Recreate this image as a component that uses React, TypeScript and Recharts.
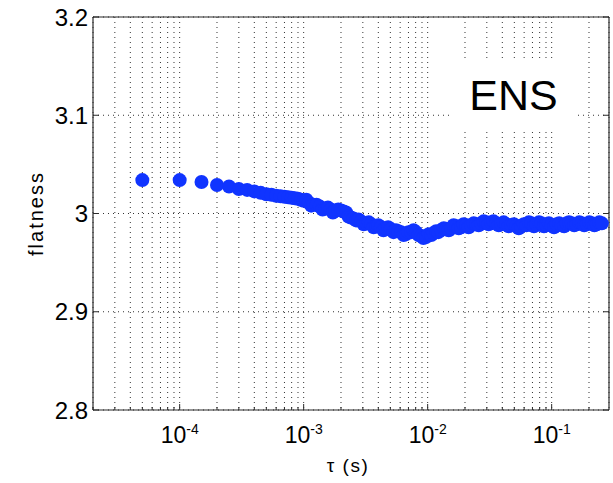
import React from "react";
import {
  CartesianGrid,
  Legend,
  Scatter,
  ScatterChart,
  XAxis,
  YAxis,
} from "recharts";

// time lag tau (s) and the flatness measured at that lag
const tauSeconds = [
  5e-5, 1e-4, 1.5e-4, 2e-4, 2.5e-4, 3e-4, 3.5e-4, 4e-4, 4.5e-4, 5e-4,
  5.5e-4, 6e-4, 6.5e-4, 7e-4, 7.5e-4, 8e-4, 8.5e-4, 9e-4, 9.5e-4, 1e-3,
  1.05e-3, 1.1e-3, 1.15e-3, 1.2e-3, 1.27e-3, 1.35e-3, 1.42e-3, 1.5e-3, 1.57e-3, 1.65e-3,
  1.72e-3, 1.8e-3, 1.9e-3, 2e-3, 2.1e-3, 2.2e-3, 2.3e-3, 2.4e-3, 2.52e-3, 2.65e-3,
  2.77e-3, 2.9e-3, 3.05e-3, 3.2e-3, 3.35e-3, 3.5e-3, 3.67e-3, 3.85e-3, 4e-3, 4.2e-3,
  4.4e-3, 4.6e-3, 4.8e-3, 5.05e-3, 5.3e-3, 5.55e-3, 5.8e-3, 6.1e-3, 6.4e-3, 6.7e-3,
  7e-3, 7.35e-3, 7.7e-3, 8.05e-3, 8.45e-3, 8.85e-3, 9.25e-3, 9.7e-3, 1.02e-2, 1.07e-2,
  1.12e-2, 1.17e-2, 1.22e-2, 1.28e-2, 1.35e-2, 1.41e-2, 1.48e-2, 1.55e-2, 1.62e-2, 1.7e-2,
  1.78e-2, 1.86e-2, 1.95e-2, 2.04e-2, 2.14e-2, 2.24e-2, 2.35e-2, 2.46e-2, 2.58e-2, 2.7e-2,
  2.83e-2, 2.96e-2, 3.1e-2, 3.25e-2, 3.4e-2, 3.57e-2, 3.74e-2, 3.92e-2, 4.1e-2, 4.3e-2,
  4.5e-2, 4.72e-2, 4.95e-2, 5.18e-2, 5.43e-2, 5.69e-2, 5.96e-2, 6.25e-2, 6.55e-2, 6.86e-2,
  7.2e-2, 7.53e-2, 7.9e-2, 8.27e-2, 8.67e-2, 9.08e-2, 9.5e-2, 9.97e-2, 0.1045, 0.1095,
  0.115, 0.12, 0.126, 0.132, 0.138, 0.145, 0.152, 0.159, 0.167, 0.175,
  0.183, 0.192, 0.201, 0.211, 0.221, 0.231, 0.242, 0.254,
];

const flatness = [
  3.034, 3.034, 3.032, 3.029, 3.0275, 3.025, 3.024, 3.0225, 3.021, 3.0195,
  3.019, 3.018, 3.0175, 3.017, 3.0165, 3.016, 3.0155, 3.015, 3.014, 3.013,
  3.014, 3.011, 3.008, 3.009, 3.009, 3.007, 3.004, 3.005, 3.006, 3.004,
  3.001, 3.003, 3.004, 3.003, 3.002, 3.001, 2.997, 2.996, 2.995, 2.993,
  2.994, 2.992, 2.989, 2.99, 2.991, 2.989, 2.986, 2.987, 2.988, 2.986,
  2.983, 2.985, 2.986, 2.984, 2.981, 2.983, 2.982, 2.981, 2.978, 2.979,
  2.981, 2.981, 2.983, 2.981, 2.978, 2.977, 2.975, 2.976, 2.979, 2.978,
  2.98, 2.982, 2.981, 2.983, 2.985, 2.984, 2.983, 2.985, 2.988, 2.987,
  2.985, 2.986, 2.989, 2.988, 2.986, 2.988, 2.99, 2.989, 2.988, 2.99,
  2.992, 2.991, 2.989, 2.991, 2.992, 2.99, 2.988, 2.989, 2.991, 2.989,
  2.987, 2.988, 2.989, 2.987, 2.985, 2.987, 2.989, 2.988, 2.991, 2.99,
  2.987, 2.989, 2.991, 2.99, 2.987, 2.988, 2.99, 2.988, 2.986, 2.989,
  2.99, 2.988, 2.987, 2.99, 2.991, 2.99, 2.988, 2.989, 2.991, 2.99,
  2.988, 2.989, 2.991, 2.99, 2.988, 2.989, 2.991, 2.99,
];

const decades = [1e-5, 1e-4, 1e-3, 1e-2, 1e-1];
const decadeLabels = ["-5", "-4", "-3", "-2", "-1"];
const multipliers = [1, 2, 3, 4, 5, 6, 7, 8, 9];
const xDomain = [2e-5, 0.29];

const yTicks = [2.8, 2.9, 3.0, 3.1, 3.2];
const yTickLabels = ["2.8", "2.9", "3", "3.1", "3.2"];

const FONT = "'Liberation Sans', Arial, Helvetica, sans-serif";
const BLUE = "#1034ff";
const AXIS = "#2b2b2b";

const xTicks = decades
  .flatMap((d) => multipliers.map((m) => +(d * m).toPrecision(3)))
  .filter((t) => t >= xDomain[0] && t <= xDomain[1]);

const data = tauSeconds.map((tau, i) => ({ tau, flatness: flatness[i] }));

const majorIndex = (v: number) =>
  decades.findIndex((d) => Math.abs(v / d - 1) < 1e-6);

function BottomTick({ x, y, payload }: any) {
  const idx = majorIndex(payload.value);
  const len = idx >= 0 ? 6 : 3;
  return (
    <g>
      <line x1={x} x2={x} y1={y} y2={y - len} stroke={AXIS} strokeWidth={1} />
      {idx >= 0 && (
        <text x={x} y={y + 33} textAnchor="middle" fontFamily={FONT} fontSize={23} fill="#000">
          10
          <tspan dy={-9} fontSize={14}>
            {decadeLabels[idx]}
          </tspan>
        </text>
      )}
    </g>
  );
}

function TopTick({ x, y, payload }: any) {
  const len = majorIndex(payload.value) >= 0 ? 6 : 3;
  return <line x1={x} x2={x} y1={y} y2={y + len} stroke={AXIS} strokeWidth={1} />;
}

function LeftTick({ x, y, payload }: any) {
  const i = yTicks.findIndex((t) => Math.abs(t - payload.value) < 1e-9);
  return (
    <g>
      <line x1={x} x2={x + 6} y1={y} y2={y} stroke={AXIS} strokeWidth={1} />
      <text x={x - 5} y={y + 8.5} textAnchor="end" fontFamily={FONT} fontSize={24} fill="#000">
        {yTickLabels[i]}
      </text>
    </g>
  );
}

function RightTick({ x, y }: any) {
  return <line x1={x} x2={x - 6} y1={y} y2={y} stroke={AXIS} strokeWidth={1} />;
}

function FlatnessLabel({ viewBox }: any) {
  const cx = viewBox.x + 43;
  const cy = viewBox.y + viewBox.height / 2;
  return (
    <text
      x={cx}
      y={cy}
      transform={`rotate(-90 ${cx} ${cy})`}
      textAnchor="middle"
      fontFamily={FONT}
      fontSize={20}
      letterSpacing={2}
      fill="#000"
    >
      flatness
    </text>
  );
}

function TauLabel({ viewBox }: any) {
  return (
    <text
      x={viewBox.x + viewBox.width / 2 - 3}
      y={viewBox.y + 62}
      textAnchor="middle"
      fontFamily={FONT}
      fontSize={19}
      letterSpacing={1.5}
      fill="#000"
    >
      τ (s)
    </text>
  );
}

function EnsBox() {
  return (
    <div
      style={{
        width: 127,
        height: 74,
        background: "#fff",
        display: "flex",
        alignItems: "center",
        justifyContent: "center",
        fontFamily: FONT,
        fontSize: 43,
        lineHeight: 1,
        color: "#000",
      }}
    >
      ENS
    </div>
  );
}

function Dot({ cx, cy }: any) {
  return <circle cx={cx} cy={cy} r={7} fill={BLUE} />;
}

export default function App() {
  return (
    <div style={{ position: "absolute", left: 0, top: 0, background: "#fff" }}>
      <ScatterChart width={613} height={483} margin={{ top: 0, right: 0, bottom: 0, left: 0 }}>
        <CartesianGrid stroke="#333" strokeDasharray="1 4" strokeWidth={1} />
        <XAxis
          dataKey="tau"
          type="number"
          scale="log"
          domain={xDomain}
          allowDataOverflow
          ticks={xTicks}
          interval={0}
          height={73}
          tickSize={0}
          tickMargin={0}
          tickLine={false}
          axisLine={{ stroke: AXIS, strokeWidth: 1.2 }}
          tick={<BottomTick />}
          label={<TauLabel />}
        />
        <XAxis
          xAxisId="top"
          orientation="top"
          type="number"
          scale="log"
          domain={xDomain}
          allowDataOverflow
          ticks={xTicks}
          interval={0}
          height={17}
          tickSize={0}
          tickMargin={0}
          tickLine={false}
          axisLine={{ stroke: AXIS, strokeWidth: 1.2 }}
          tick={<TopTick />}
        />
        <YAxis
          dataKey="flatness"
          type="number"
          domain={[2.8, 3.2]}
          allowDataOverflow
          ticks={yTicks}
          interval={0}
          width={93}
          tickSize={0}
          tickMargin={0}
          tickLine={false}
          axisLine={{ stroke: AXIS, strokeWidth: 1.2 }}
          tick={<LeftTick />}
          label={<FlatnessLabel />}
        />
        <YAxis
          yAxisId="right"
          orientation="right"
          type="number"
          domain={[2.8, 3.2]}
          allowDataOverflow
          ticks={yTicks}
          interval={0}
          width={4}
          tickSize={0}
          tickMargin={0}
          tickLine={false}
          axisLine={{ stroke: AXIS, strokeWidth: 1.2 }}
          tick={<RightTick />}
        />
        <Legend
          layout="vertical"
          align="center"
          verticalAlign="middle"
          wrapperStyle={{ left: 450, top: 58, width: 127, height: 74 }}
          content={() => <EnsBox />}
        />
        <Scatter data={data} fill={BLUE} shape={<Dot />} isAnimationActive={false} />
      </ScatterChart>
    </div>
  );
}
